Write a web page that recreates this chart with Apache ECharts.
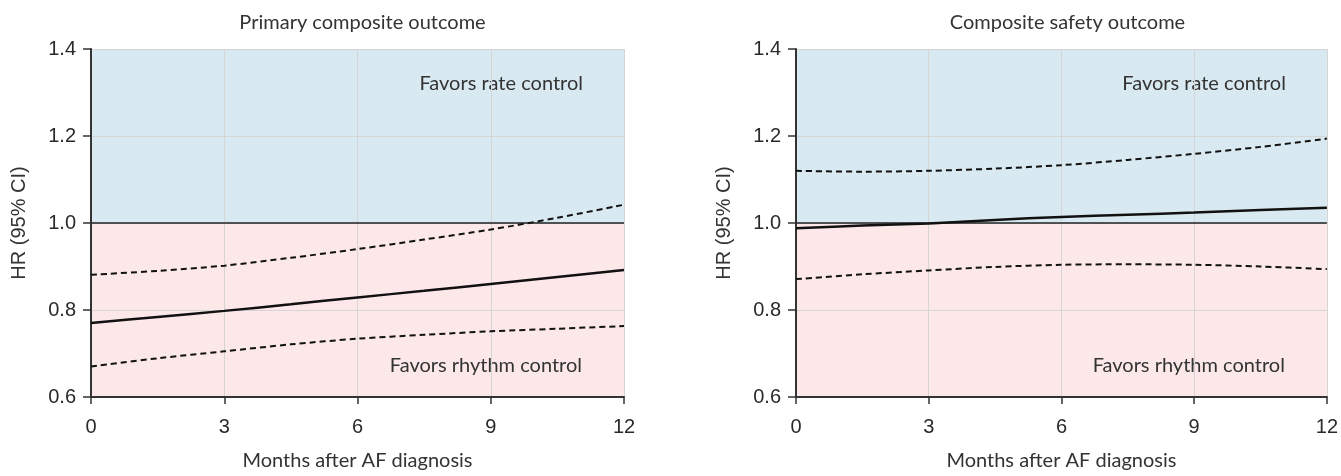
<!DOCTYPE html>
<html>
<head>
<meta charset="utf-8">
<script src="https://cdn.jsdelivr.net/npm/echarts@6/dist/echarts.min.js"></script>
<style>
  html, body { margin: 0; padding: 0; background: #ffffff; }
  #chart { width: 1341px; height: 476px; }
</style>
</head>
<body>
<div id="chart"></div>
<script>
// ---- data ----
const months = [0, 1.5, 3, 4.5, 6, 7.5, 9, 10.5, 12];
const panelTitles = ['Primary composite outcome', 'Composite safety outcome'];
const xAxisTitle = 'Months after AF diagnosis';
const yAxisTitle = 'HR (95% CI)';
const upperLabel = 'Favors rate control';
const lowerLabel = 'Favors rhythm control';
const xTicks = [0, 3, 6, 9, 12];
const yTicks = [0.6, 0.8, 1.0, 1.2, 1.4];
const referenceHR = 1.0;

const primaryHR    = [0.770, 0.784, 0.798, 0.813, 0.829, 0.844, 0.860, 0.876, 0.892];
const primaryUpper = [0.881, 0.890, 0.902, 0.920, 0.940, 0.962, 0.985, 1.012, 1.042];
const primaryLower = [0.670, 0.689, 0.705, 0.721, 0.734, 0.743, 0.751, 0.757, 0.763];

const safetyHR     = [0.988, 0.994, 0.999, 1.007, 1.014, 1.019, 1.024, 1.030, 1.035];
const safetyUpper  = [1.120, 1.118, 1.120, 1.125, 1.133, 1.145, 1.159, 1.175, 1.194];
const safetyLower  = [0.871, 0.882, 0.891, 0.899, 0.904, 0.905, 0.904, 0.900, 0.894];

// ---- styling ----
const BLUE = '#d9e9f1';
const PINK = '#fce8e8';
const GRIDC = '#d5d5d5';
const AXISC = '#333333';
const TXT = '#333333';
const SANS = 'Lato';
const NUM = 'Liberation Sans';

const chart = echarts.init(document.getElementById('chart'), null, { renderer: 'canvas' });

const gridPos = [
  { left: 91, top: 49, width: 533, height: 354 },
  { left: 796, top: 49, width: 533, height: 354 }
];

const pairs = (ys) => months.map((m, i) => [m, ys[i]]);

const panels = [
  { hr: primaryHR, up: primaryUpper, lo: primaryLower },
  { hr: safetyHR, up: safetyUpper, lo: safetyLower }
];

const xAxes = [], yAxes = [], series = [], titles = [];

panels.forEach((p, i) => {
  const g = gridPos[i];
  titles.push({
    text: panelTitles[i],
    left: g.left + g.width / 2,
    top: 8,
    textAlign: 'center',
    textStyle: { fontFamily: SANS, fontSize: 20, fontWeight: 'normal', color: TXT }
  });
  xAxes.push({
    gridIndex: i,
    type: 'value',
    min: xTicks[0],
    max: xTicks[xTicks.length - 1],
    interval: 3,
    z: 3,
    name: xAxisTitle,
    nameLocation: 'middle',
    nameGap: 54,
    nameTextStyle: { fontFamily: SANS, fontSize: 20, color: TXT },
    axisLine: { show: true, lineStyle: { color: AXISC, width: 2 } },
    axisTick: { show: true, length: 7, lineStyle: { color: AXISC, width: 1.5 } },
    axisLabel: { fontFamily: NUM, fontSize: 20, color: '#2a2a2a', margin: 20 },
    splitLine: { show: true, lineStyle: { color: GRIDC, width: 1 } }
  });
  yAxes.push({
    gridIndex: i,
    type: 'value',
    min: yTicks[0],
    max: yTicks[yTicks.length - 1],
    interval: 0.2,
    z: 3,
    name: yAxisTitle,
    nameLocation: 'middle',
    nameGap: 62,
    nameTextStyle: { fontFamily: NUM, fontSize: 20, color: TXT },
    axisLine: { show: true, lineStyle: { color: AXISC, width: 2 } },
    axisTick: { show: true, length: 8, lineStyle: { color: AXISC, width: 1.5 } },
    axisLabel: { fontFamily: NUM, fontSize: 20, color: '#2a2a2a', margin: 15,
                 formatter: (v) => v.toFixed(1) },
    splitLine: { show: true, lineStyle: { color: GRIDC, width: 1 } }
  });

  // background bands (below split lines)
  series.push({
    type: 'line',
    xAxisIndex: i, yAxisIndex: i,
    data: [],
    z: 0,
    silent: true,
    markArea: {
      silent: true,
      z: 0,
      data: [
        [{ yAxis: referenceHR, itemStyle: { color: BLUE },
           label: { show: true, position: 'insideTopRight', distance: 41, offset: [0, -16],
                    formatter: upperLabel, fontFamily: SANS, fontSize: 20, color: TXT } },
         { yAxis: yTicks[yTicks.length - 1] }],
        [{ yAxis: yTicks[0], itemStyle: { color: PINK },
           label: { show: true, position: 'insideBottomRight', distance: 42, offset: [0, 21],
                    formatter: lowerLabel, fontFamily: SANS, fontSize: 20, color: TXT } },
         { yAxis: referenceHR }]
      ]
    }
  });

  // hazard ratio
  series.push({
    type: 'line',
    xAxisIndex: i, yAxisIndex: i,
    data: pairs(p.hr),
    smooth: 0.3,
    symbol: 'none',
    z: 6,
    lineStyle: { color: '#111', width: 2.5 },
    markLine: {
      silent: true,
      symbol: 'none',
      z: 5,
      label: { show: false },
      lineStyle: { color: '#222', width: 1.6, type: 'solid' },
      data: [{ yAxis: referenceHR }]
    }
  });
  // CI bounds
  [p.up, p.lo].forEach((arr) => {
    series.push({
      type: 'line',
      xAxisIndex: i, yAxisIndex: i,
      data: pairs(arr),
      smooth: 0.3,
      symbol: 'none',
      z: 6,
      lineStyle: { color: '#111', width: 2, type: [6, 4] }
    });
  });
});

chart.setOption({
  animation: false,
  backgroundColor: '#ffffff',
  title: titles,
  grid: gridPos.map(g => Object.assign({ containLabel: false }, g)),
  xAxis: xAxes,
  yAxis: yAxes,
  series: series
});
</script>
</body>
</html>
